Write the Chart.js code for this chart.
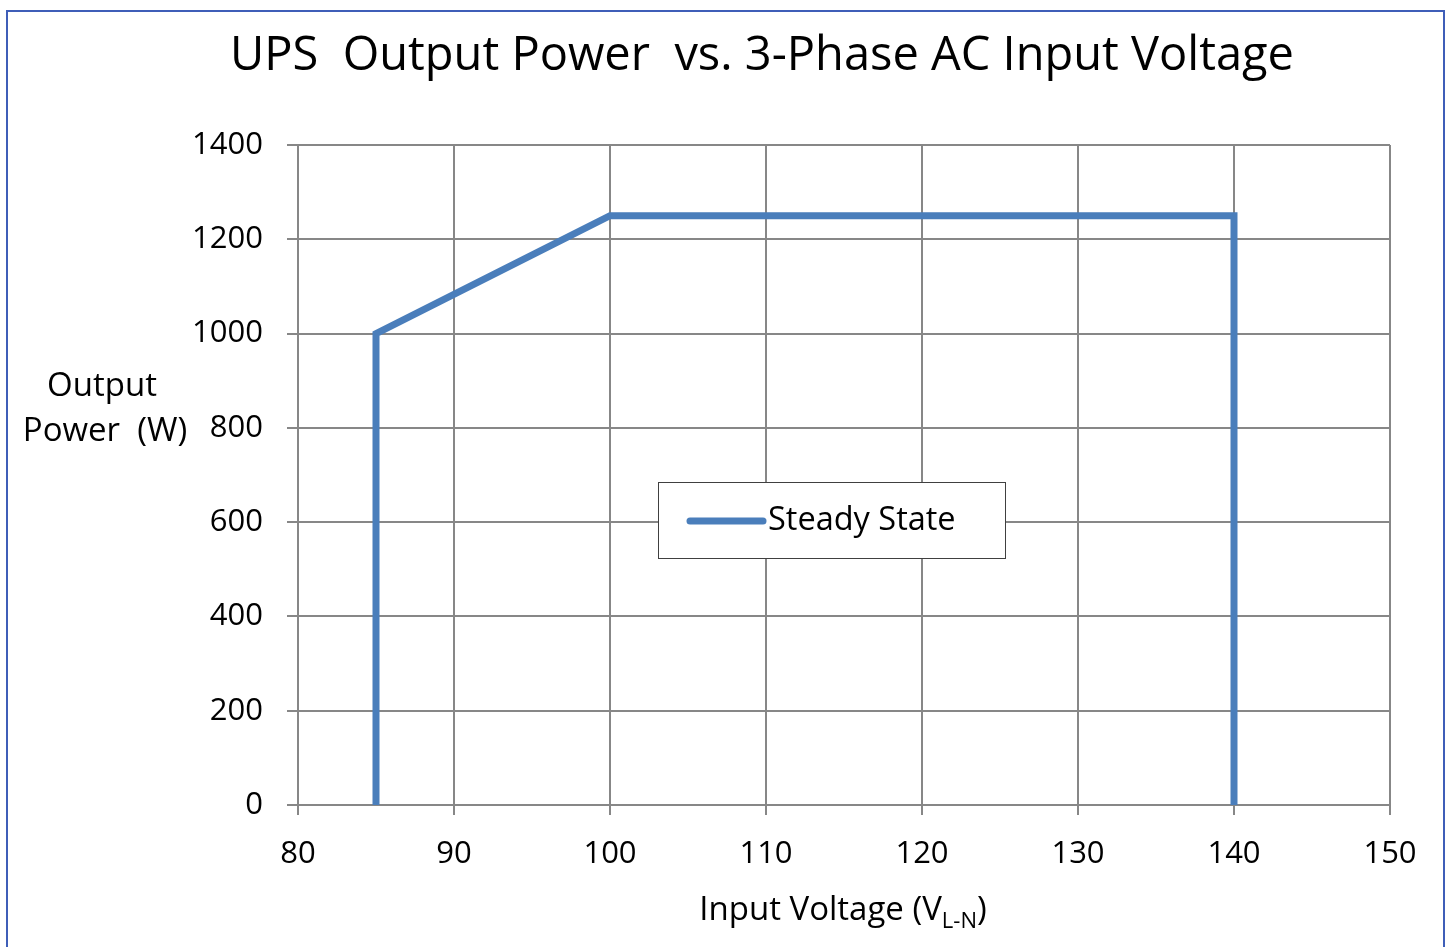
<!DOCTYPE html>
<html>
<head>
<meta charset="utf-8">
<script src="https://cdn.jsdelivr.net/npm/chart.js@4"></script>
<style>
  html, body { margin: 0; padding: 0; background: #fff; }
  #wrap { width: 1447px; height: 947px; }
</style>
</head>
<body>
<div id="wrap"><canvas id="ups-chart"></canvas></div>
<script>
// Curve points
const voltage = [85, 85, 100, 140, 140];
const power = [0, 1000, 1250, 1250, 0];
const seriesLabel = 'Steady State';

const xTicks = [80, 90, 100, 110, 120, 130, 140, 150];
const yTicks = [0, 200, 400, 600, 800, 1000, 1200, 1400];

const titleText = 'UPS  Output Power  vs. 3-Phase AC Input Voltage';
const yTitleLines = ['Output', 'Power  (W)'];

const FONT = '"Open Sans", "Noto Sans", sans-serif';
const LINE_COLOR = '#4A7EBB';
const GRID_COLOR = '#878787';

// Draw frame, title, axis titles and the legend box by hand
const decorations = {
    id: 'decorations',
    beforeDraw(chart) {
        const ctx = chart.ctx;
        ctx.save();
        ctx.fillStyle = '#ffffff';
        ctx.fillRect(0, 0, chart.width, chart.height);
        ctx.strokeStyle = '#3F5EB8';
        ctx.lineWidth = 2;
        ctx.strokeRect(7, 11, 1437, 960);
        ctx.restore();
    },
    afterDraw(chart) {
        const ctx = chart.ctx;
        ctx.save();
        ctx.fillStyle = '#000000';
        ctx.textBaseline = 'alphabetic';

        // title
        ctx.font = '47px ' + FONT;
        ctx.textAlign = 'center';
        ctx.fillText(titleText, 762, 70);

        // y axis title, two horizontal lines
        ctx.font = '33px ' + FONT;
        ctx.fillText(yTitleLines[0], 102, 396);
        ctx.fillText(yTitleLines[1], 105, 441);

        // x axis title with subscript
        ctx.textAlign = 'left';
        const main = 'Input Voltage (V';
        const sub = 'L-N';
        ctx.font = '33px ' + FONT;
        const w1 = ctx.measureText(main).width;
        ctx.font = '22px ' + FONT;
        const w2 = ctx.measureText(sub).width;
        ctx.font = '33px ' + FONT;
        const w3 = ctx.measureText(')').width;
        let x0 = 843 - (w1 + w2 + w3) / 2;
        ctx.fillText(main, x0, 920);
        ctx.font = '22px ' + FONT;
        ctx.fillText(sub, x0 + w1, 928);
        ctx.font = '33px ' + FONT;
        ctx.fillText(')', x0 + w1 + w2, 920);

        // legend box
        const ds = chart.data.datasets[0];
        ctx.fillStyle = '#ffffff';
        ctx.fillRect(658, 482, 347, 76);
        ctx.strokeStyle = '#404040';
        ctx.lineWidth = 1;
        ctx.strokeRect(658.5, 482.5, 347, 76);
        ctx.strokeStyle = ds.borderColor;
        ctx.lineWidth = 7;
        ctx.lineCap = 'round';
        ctx.beginPath();
        ctx.moveTo(690, 521);
        ctx.lineTo(763, 521);
        ctx.stroke();
        ctx.fillStyle = '#000000';
        ctx.font = '32.5px ' + FONT;
        ctx.textBaseline = 'middle';
        ctx.fillText(ds.label, 768, 521);
        ctx.restore();
    }
};

new Chart(document.getElementById('ups-chart'), {
    type: 'scatter',
    data: {
        datasets: [
            {
                label: seriesLabel,
                data: voltage.map((v, i) => ({ x: v, y: power[i] })),
                showLine: true,
                borderColor: LINE_COLOR,
                backgroundColor: LINE_COLOR,
                borderWidth: 7,
                borderJoinStyle: 'miter',
                borderCapStyle: 'butt',
                pointRadius: 0,
                tension: 0
            }
        ]
    },
    options: {
        responsive: true,
        maintainAspectRatio: false,
        animation: false,
        layout: {
            padding: { left: 0, top: 145, right: 57, bottom: 0 }
        },
        scales: {
            x: {
                type: 'linear',
                min: 80,
                max: 150,
                afterFit: (scale) => { scale.height = 142; },
                afterBuildTicks: (scale) => { scale.ticks = xTicks.map(v => ({ value: v })); },
                grid: { color: GRID_COLOR, lineWidth: 2, tickLength: 10 },
                border: { color: GRID_COLOR, width: 2 },
                ticks: {
                    color: '#000000',
                    padding: 21,
                    maxRotation: 0,
                    callback: (v) => String(v),
                    font: { family: FONT, size: 31 }
                }
            },
            y: {
                type: 'linear',
                min: 0,
                max: 1400,
                afterFit: (scale) => { scale.width = 298; },
                afterBuildTicks: (scale) => { scale.ticks = yTicks.map(v => ({ value: v })); },
                grid: { color: GRID_COLOR, lineWidth: 2, tickLength: 11 },
                border: { color: GRID_COLOR, width: 2 },
                ticks: {
                    color: '#000000',
                    padding: 24,
                    callback: (v) => String(v),
                    font: { family: FONT, size: 31 }
                }
            }
        },
        plugins: {
            legend: { display: false },
            title: { display: false },
            tooltip: { enabled: false }
        }
    },
    plugins: [decorations]
});
</script>
</body>
</html>
